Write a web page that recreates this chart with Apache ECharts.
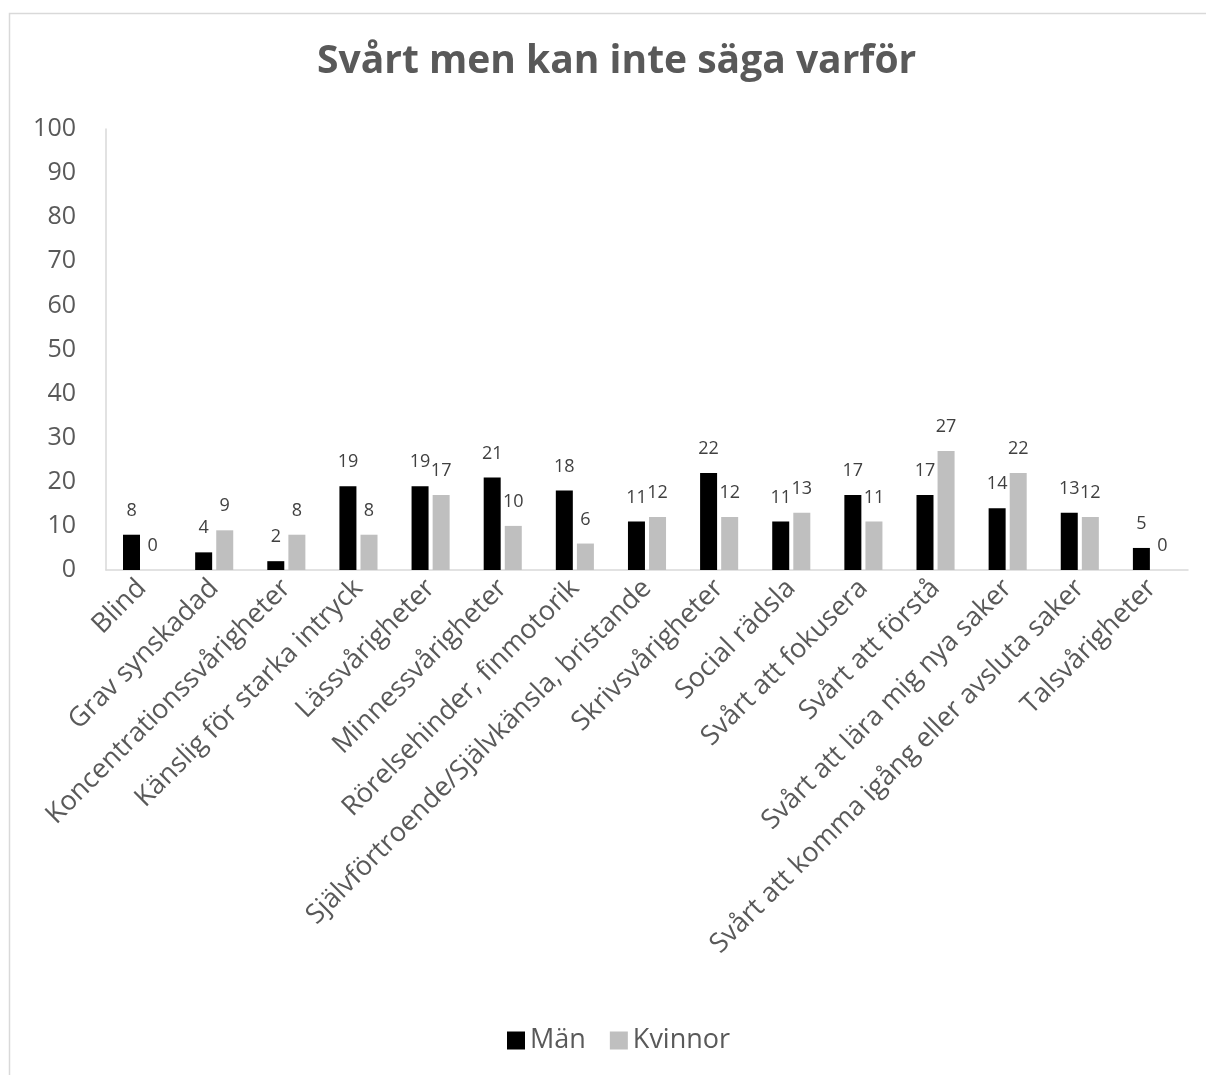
<!DOCTYPE html>
<html>
<head>
<meta charset="utf-8">
<script src="https://cdn.jsdelivr.net/npm/echarts@6/dist/echarts.min.js"></script>
<style>html,body{margin:0;padding:0;background:#fff}#c{width:1206px;height:1075px}</style>
</head>
<body>
<div id="c"></div>
<script>
const categories = ["Blind","Grav synskadad","Koncentrationssvårigheter","Känslig för starka intryck","Lässvårigheter","Minnessvårigheter","Rörelsehinder, finmotorik","Självförtroende/Självkänsla, bristande","Skrivsvårigheter","Social rädsla","Svårt att fokusera","Svårt att förstå","Svårt att lära mig nya saker","Svårt att komma igång eller avsluta saker","Talsvårigheter"];
const man = [8,4,2,19,19,21,18,11,22,11,17,17,14,13,5];
const kvinnor = [0,9,8,8,17,10,6,12,12,13,11,27,22,12,0];
const seriesNames = ["Män","Kvinnor"];
const titleText = "Svårt men kan inte säga varför";

const FONT = '"Open Sans", "Noto Sans", sans-serif';
const chart = echarts.init(document.getElementById('c'), null, {renderer:'canvas'});
const labelStyle = {show:true, position:'top', color:'#404040', fontSize:18, fontFamily:FONT, distance:15};
chart.setOption({
  animation:false,
  backgroundColor:'#fff',
  title:{text:titleText, left:312, top:37, textStyle:{fontSize:39, fontWeight:'bold', color:'#595959', fontFamily:FONT}},
  graphic:[{type:'rect', shape:{x:9.5,y:13.5,width:1300,height:1200}, style:{fill:null, stroke:'#d9d9d9', lineWidth:1.5}, silent:true}],
  legend:{data:seriesNames, bottom:16, left:502, itemWidth:18, itemHeight:18, itemGap:24, icon:'rect',
    textStyle:{fontSize:27, color:'#595959', fontFamily:FONT}},
  grid:{left:106, right:18, top:129, bottom:505, containLabel:false},
  xAxis:{type:'category', data:categories,
    axisLine:{lineStyle:{color:'#d9d9d9', width:1.5}},
    axisTick:{show:false},
    axisLabel:{rotate:45, interval:0, fontSize:27, color:'#595959', fontFamily:FONT, margin:14}},
  yAxis:{type:'value', min:0, max:100, interval:10,
    axisLine:{show:true, lineStyle:{color:'#d9d9d9', width:1.5}},
    axisTick:{show:false}, splitLine:{show:false},
    axisLabel:{fontSize:25, color:'#595959', fontFamily:FONT, margin:30}},
  series:[
    {name:seriesNames[0], type:'bar', data:man, barWidth:17, barGap:'24%', itemStyle:{color:'#000000'}, label:labelStyle},
    {name:seriesNames[1], type:'bar', data:kvinnor, barWidth:17, itemStyle:{color:'#bfbfbf'}, label:labelStyle}
  ]
});
</script>
</body>
</html>
